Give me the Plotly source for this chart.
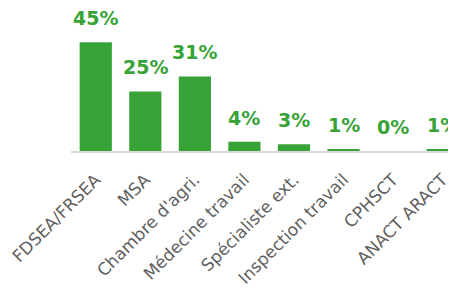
import plotly.graph_objects as go

categories = ["FDSEA/FRSEA", "MSA", "Chambre d'agri.", "Médecine travail",
              "Spécialiste ext.", "Inspection travail", "CPHSCT", "ANACT ARACT"]
values = [44.9, 24.6, 30.8, 3.8, 2.8, 0.7, 0.0, 0.7]
labels = ["45%", "25%", "31%", "4%", "3%", "1%", "0%", "1%"]

GREEN = "#37A337"
FONT = "DejaVu Sans"

fig = go.Figure(go.Bar(x=categories, y=values, marker_color=GREEN,
                       marker_line_width=0, width=0.65, hoverinfo="skip"))

for c, v, t in zip(categories, values, labels):
    fig.add_annotation(x=c, y=v, text=f"<b>{t}</b>", showarrow=False,
                       yanchor="bottom", yshift=11,
                       font=dict(family=FONT, size=19, color=GREEN))

# the page body adds an 8px offset; margins compensate for it
fig.update_layout(
    width=456, height=289,
    margin=dict(l=63, r=8, t=0, b=146, autoexpand=False),
    paper_bgcolor="white", plot_bgcolor="white",
    showlegend=False,
    xaxis=dict(range=[-0.5, 7.27], showline=True, linecolor="#D9D9D9", linewidth=2,
               automargin=False,
               tickangle=-45, ticks="outside", ticklen=10, tickcolor="rgba(0,0,0,0)",
               tickfont=dict(family=FONT, size=17, color="#5F5F5F"),
               showgrid=False, zeroline=False),
    yaxis=dict(range=[0, 59.1], visible=False, showgrid=False, zeroline=False,
               automargin=False),
)

fig.write_html("out.html")
